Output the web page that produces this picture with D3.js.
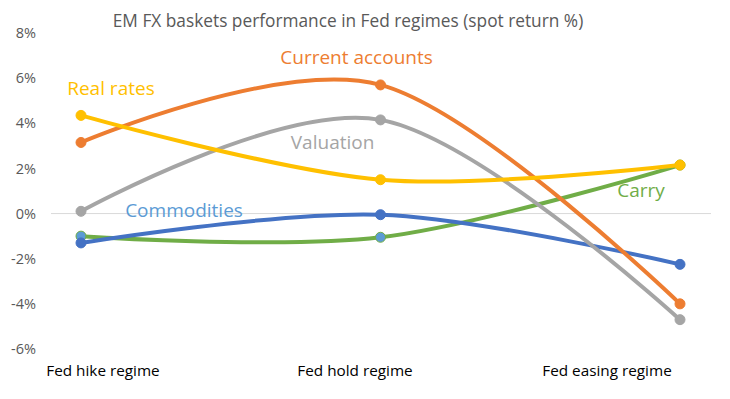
<!DOCTYPE html>
<html>
<head>
<meta charset="utf-8">
<script src="https://cdn.jsdelivr.net/npm/d3@7"></script>
<style>
	body { margin: 0; background: #fff; }
	text { font-family: 'Open Sans', 'Noto Sans', sans-serif; }
</style>
</head>
<body>
<div class="chartWrapper"></div>
<script>
// Categories and series (spot return %)
let regimes = ['Fed hike regime', 'Fed hold regime', 'Fed easing regime'];
let currentAccounts = [3.15, 5.7, -4.0];
let realRates = [4.35, 1.5, 2.15];
let valuation = [0.1, 4.15, -4.7];
let commodities = [-1.3, -0.05, -2.25];
let carry = [-1.0, -1.05, 2.15];
let yTicks = [8, 6, 4, 2, 0, -2, -4, -6];

// label anchors: [category index, value]
let labelAt = {
	'Current accounts': [0.92, 6.63],
	'Real rates': [0.10, 5.25],
	'Valuation': [0.84, 2.86],
	'Commodities': [0.344, -0.14],
	'Carry': [1.87, 0.73]
};

let width = 730,
	height = 399,
	margin = { left: 81, right: 50, top: 33, bottom: 50 };

let series = [
	{ name: 'Carry', values: carry, color: '#70AD47', marker: '#5B9BD5', label: '#70AD47' },
	{ name: 'Commodities', values: commodities, color: '#4472C4', marker: '#4472C4', label: '#5B9BD5' },
	{ name: 'Valuation', values: valuation, color: '#A5A5A5', marker: '#A5A5A5', label: '#A5A5A5' },
	{ name: 'Current accounts', values: currentAccounts, color: '#ED7D31', marker: '#ED7D31', label: '#ED7D31' },
	{ name: 'Real rates', values: realRates, color: '#FFC000', marker: '#FFC000', label: '#FFC000' }
];

let svg = d3.select('.chartWrapper')
	.append('svg')
	.attr('width', width)
	.attr('height', height);

//Scales
let xScale = d3.scalePoint()
	.domain(regimes)
	.range([margin.left, width - margin.right]);

let xIndex = d3.scaleLinear()
	.domain([0, regimes.length - 1])
	.range([margin.left, width - margin.right]);

let yScale = d3.scaleLinear()
	.domain([-6, 8])
	.range([height - margin.bottom, margin.top]);

//Title
svg.append('text')
	.attr('x', 348)
	.attr('y', 27)
	.attr('text-anchor', 'middle')
	.style('font-size', '17.3px')
	.style('fill', '#595959')
	.text('EM FX baskets performance in Fed regimes (spot return %)');

//Y axis labels, no line
let yAxis = d3.axisLeft(yScale)
	.tickValues(yTicks)
	.tickSize(0)
	.tickPadding(0)
	.tickFormat(d => d + '%');

let yAxisGroup = svg.append('g')
	.attr('transform', 'translate(36,0)')
	.call(yAxis);
yAxisGroup.select('.domain').remove();
yAxisGroup.selectAll('text')
	.style('font-size', '14.5px')
	.style('fill', '#595959');

//Zero line
svg.append('line')
	.attr('x1', 51)
	.attr('x2', 711)
	.attr('y1', yScale(0))
	.attr('y2', yScale(0))
	.attr('stroke', '#D9D9D9')
	.attr('stroke-width', 1);

//Category labels (sit a bit off the points, as in the source)
let catLabelScale = d3.scalePoint()
	.domain(regimes)
	.range([103, 607]);

svg.append('g')
	.selectAll('text')
	.data(regimes)
	.enter()
	.append('text')
	.attr('x', d => catLabelScale(d))
	.attr('y', 376)
	.attr('text-anchor', 'middle')
	.style('font-size', '15.3px')
	.style('fill', '#000')
	.text(d => d);

//Lines
let line = d3.line()
	.x((d, i) => xScale(regimes[i]))
	.y(d => yScale(d))
	.curve(d3.curveCatmullRom.alpha(0));

let groups = svg.append('g')
	.selectAll('g')
	.data(series)
	.enter()
	.append('g');

groups.append('path')
	.attr('d', d => line(d.values))
	.attr('fill', 'none')
	.attr('stroke', d => d.color)
	.attr('stroke-width', 4)
	.attr('stroke-linecap', 'round');

groups.selectAll('circle')
	.data(d => d.values.map(v => ({ v: v, s: d })))
	.enter()
	.append('circle')
	.attr('cx', (d, i) => xScale(regimes[i]))
	.attr('cy', d => yScale(d.v))
	.attr('r', 5)
	.attr('fill', d => d.s.marker)
	.attr('stroke', d => d.s.color)
	.attr('stroke-width', 1);

//Series labels
svg.append('g')
	.selectAll('text')
	.data(series)
	.enter()
	.append('text')
	.attr('x', d => xIndex(labelAt[d.name][0]))
	.attr('y', d => yScale(labelAt[d.name][1]))
	.attr('text-anchor', 'middle')
	.style('font-size', '19px')
	.style('fill', d => d.label)
	.text(d => d.name);
</script>
</body>
</html>
